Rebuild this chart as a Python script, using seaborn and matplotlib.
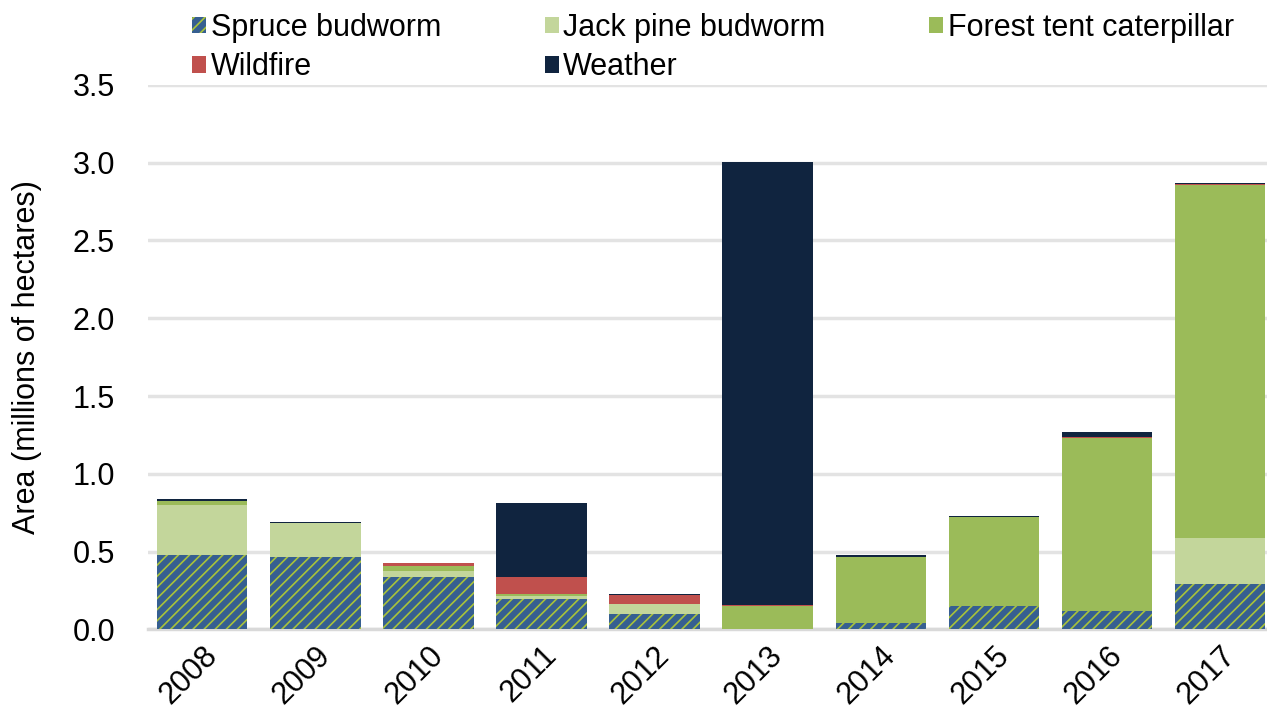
import numpy as np
import pandas as pd
import matplotlib
matplotlib.use("Agg")
import matplotlib.pyplot as plt
import seaborn as sns
from matplotlib.patches import Patch

years = ["2008", "2009", "2010", "2011", "2012", "2013", "2014", "2015", "2016", "2017"]
spruce_budworm = [0.476, 0.463, 0.335, 0.197, 0.100, 0.000, 0.043, 0.150, 0.116, 0.294]
jack_pine_budworm = [0.324, 0.221, 0.040, 0.015, 0.060, 0.000, 0.000, 0.000, 0.000, 0.290]
forest_tent_caterpillar = [0.026, 0.000, 0.032, 0.018, 0.005, 0.150, 0.422, 0.569, 1.111, 2.273]
wildfire = [0.000, 0.000, 0.016, 0.103, 0.054, 0.009, 0.000, 0.000, 0.008, 0.005]
weather = [0.010, 0.006, 0.000, 0.477, 0.006, 2.846, 0.011, 0.010, 0.035, 0.005]

series = ["Spruce budworm", "Jack pine budworm", "Forest tent caterpillar", "Wildfire", "Weather"]
colors = ["#365F91", "#C3D69B", "#9BBB59", "#C0504D", "#10243F"]

sns.set_theme(style="white")
plt.rcParams["font.family"] = ["Liberation Sans", "DejaVu Sans"]
plt.rcParams["hatch.linewidth"] = 1.2
plt.rcParams["text.color"] = "black"
plt.rcParams["xtick.color"] = "black"
plt.rcParams["ytick.color"] = "black"
plt.rcParams["axes.labelcolor"] = "black"

df = pd.DataFrame({"year": years,
                   series[0]: spruce_budworm,
                   series[1]: jack_pine_budworm,
                   series[2]: forest_tent_caterpillar,
                   series[3]: wildfire,
                   series[4]: weather})
cum = df[series].cumsum(axis=1)

fig = plt.figure(figsize=(12.67, 7.2), dpi=100)
ax = fig.add_axes([0.117, 0.126, 0.883, 0.756])

# draw cumulative totals from the top layer down so each covers the one above
for i in range(len(series) - 1, -1, -1):
    sns.barplot(x=df["year"], y=cum[series[i]], color=colors[i], width=0.8,
                saturation=1, ax=ax, linewidth=0, zorder=3)

# hatch on the spruce budworm layer (drawn last)
n = len(years)
for p in ax.patches[-n:]:
    p.set_hatch("///")
    p.set_edgecolor("#A9C33A")
    p.set_linewidth(0)

ax.set_ylim(0, 3.5)
ax.set_xlim(-0.477, 9.415)
ax.set_yticks(np.arange(0, 3.51, 0.5))
ax.set_yticklabels([f"{v:.1f}" for v in np.arange(0, 3.51, 0.5)], fontsize=22)
ax.set_xticks(range(n))
ax.set_xticklabels(years, rotation=45, ha="right", rotation_mode="anchor", fontsize=22)
ax.tick_params(axis="x", pad=8, length=0)
ax.tick_params(axis="y", pad=24, length=0)
ax.set_xlabel("")
ax.set_ylabel("Area (millions of hectares)", fontsize=22, labelpad=22)
ax.grid(axis="y", color="#E3E3E3", linewidth=2.5, zorder=0)
ax.set_axisbelow(True)
for s in ["top", "right", "left"]:
    ax.spines[s].set_visible(False)
ax.spines["bottom"].set_color("#D9D9D9")
ax.spines["bottom"].set_linewidth(2.5)

handles = {}
for i, s in enumerate(series):
    if i == 0:
        handles[s] = Patch(facecolor=colors[0], edgecolor="#A9C33A", hatch="///", linewidth=0, label=s)
    else:
        handles[s] = Patch(facecolor=colors[i], linewidth=0, label=s)
# legend fills column by column, so order for row-wise reading
order = ["Spruce budworm", "Wildfire", "Jack pine budworm", "Weather", "Forest tent caterpillar"]
fig.legend(handles=[handles[k] for k in order], loc="upper left", bbox_to_anchor=(0.13, 1.02), ncol=3,
           frameon=False, fontsize=22, handlelength=0.45, handleheight=0.45,
           handletextpad=0.15, columnspacing=3.4, labelspacing=0.3)

fig.savefig("out.png", dpi=100)
